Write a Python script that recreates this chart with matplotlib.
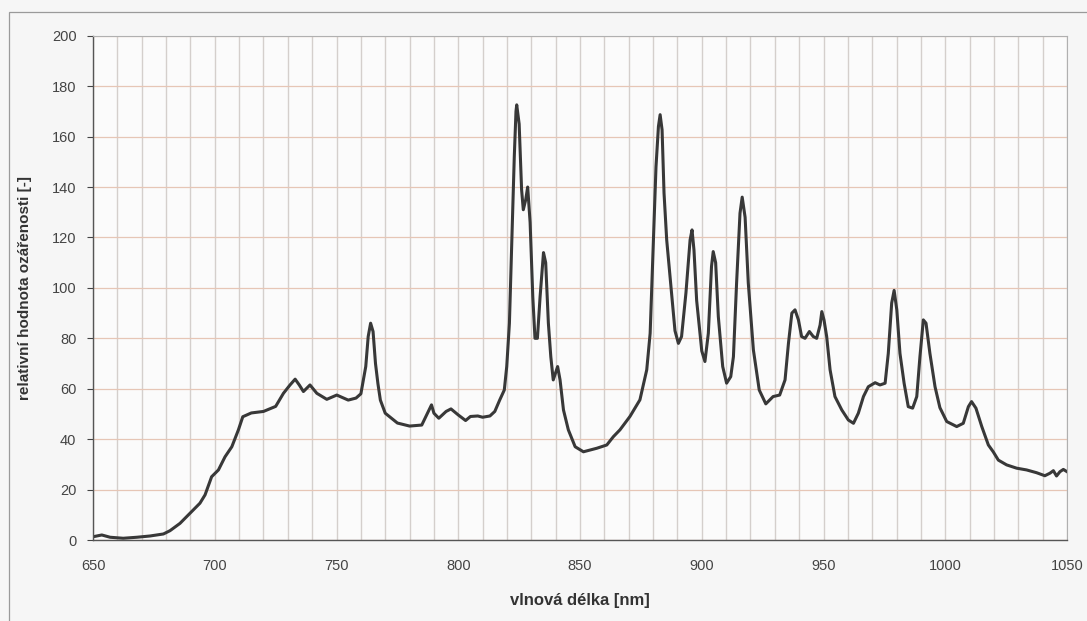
import matplotlib.pyplot as plt
from matplotlib.patches import Rectangle

# spectrum
wavelength = [650, 653.6, 657, 662.4, 668, 673.4, 678.9, 681.6, 685.7, 689.8,
              693.9, 696, 698.7, 701.5, 704.2, 707, 709.7, 711.5, 715, 720,
              725, 728.2, 730.9, 733, 734.7, 736.4, 739.1, 741.9, 746, 750.1,
              754.8, 758, 760, 762, 763, 764, 765, 766, 767, 768,
              770, 775, 780, 785, 788, 789, 790, 792, 795, 797,
              800, 803, 805, 808, 810, 813, 815, 817, 818.9, 819.9,
              821, 822, 823, 823.7, 824, 825, 826, 826.7, 827.7, 828.5,
              829.5, 830.6, 831.5, 832.5, 833.6, 835, 835.9, 837, 838, 839,
              840.8, 841.8, 843.2, 845.2, 848, 851.4, 856.9, 861, 863.7, 866.4,
              870.5, 874.6, 877.4, 878.8, 880, 881.2, 882.2, 882.9, 883.7, 884.5,
              885.6, 887.2, 889, 890.4, 891.7, 893.5, 895.2, 896, 896.8, 897.9,
              900, 901.3, 902.7, 904, 904.7, 905.7, 906.8, 908.6, 910.2, 911.9,
              913, 914.3, 915.7, 916.6, 917.8, 919.1, 921.2, 923.6, 926.3, 929.3,
              932, 934.2, 935.6, 937, 938.3, 939.7, 941, 942.4, 944.2, 945.8,
              947.2, 948.6, 949.3, 950.2, 951.3, 952.7, 954.7, 957.5, 960.2, 962.3,
              964.3, 966.4, 968.4, 971.2, 973.2, 975.3, 976.6, 978, 979, 980.1,
              981.4, 983.1, 984.8, 986.6, 988.3, 989.6, 991, 992.1, 993.7, 995.8,
              997.8, 1000.6, 1004.7, 1007.4, 1009.5, 1010.8, 1012.6, 1015, 1017.7, 1019.7,
              1021.8, 1025.2, 1029.3, 1033.4, 1037.5, 1040.9, 1043, 1044.4, 1045.7, 1047.1,
              1048.5, 1050]
irradiance = [1.3, 2.0, 1.1, 0.7, 1.1, 1.6, 2.4, 3.7, 6.6, 10.6,
              14.6, 17.9, 25.1, 27.8, 33.0, 37.0, 43.7, 48.9, 50.4, 51.0,
              53.0, 58.2, 61.5, 63.8, 61.5, 58.9, 61.5, 58.2, 55.8, 57.5,
              55.5, 56.3, 58.0, 68.8, 80.7, 86.0, 82.7, 70.0, 62.0, 55.5,
              50.3, 46.4, 45.2, 45.6, 51.6, 53.6, 50.3, 48.3, 51.0, 52.0,
              49.6, 47.4, 49.0, 49.2, 48.7, 49.2, 51.0, 55.5, 59.5, 68.8,
              86.0, 119.0, 152.0, 170.0, 172.6, 165.0, 139.0, 131.0, 135.0, 140.0,
              126.0, 96.5, 80.0, 80.0, 96.5, 114.0, 110.0, 86.0, 72.7, 63.5,
              68.8, 63.5, 51.6, 43.7, 37.0, 35.0, 36.4, 37.7, 41.0, 43.7,
              49.0, 55.6, 67.5, 82.0, 115.0, 148.0, 164.0, 168.7, 162.7, 137.6,
              119.0, 102.0, 83.0, 78.0, 80.7, 98.0, 119.0, 123.0, 115.0, 95.0,
              75.0, 70.8, 82.0, 108.5, 114.4, 110.0, 88.6, 68.8, 62.2, 64.8,
              72.7, 101.9, 129.6, 136.0, 128.0, 102.0, 75.4, 59.5, 54.0, 56.9,
              57.5, 63.5, 78.0, 90.0, 91.3, 87.3, 80.7, 80.0, 82.7, 80.7,
              80.0, 85.3, 90.6, 87.3, 80.7, 67.5, 56.9, 51.6, 47.6, 46.3,
              50.3, 56.9, 60.8, 62.4, 61.5, 62.2, 74.0, 94.0, 99.0, 91.3,
              74.0, 62.2, 52.9, 52.3, 56.9, 72.7, 87.3, 86.0, 74.0, 60.8,
              52.5, 47.0, 45.0, 46.3, 52.9, 54.9, 52.3, 45.0, 37.7, 35.0,
              31.7, 29.8, 28.5, 27.8, 26.7, 25.5, 26.5, 27.5, 25.4, 27.1,
              28.0, 27.1]

x_ticks = [650, 700, 750, 800, 850, 900, 950, 1000, 1050]
y_ticks = [0, 20, 40, 60, 80, 100, 120, 140, 160, 180, 200]

plt.rcParams['font.family'] = ['Liberation Sans', 'DejaVu Sans']

fig = plt.figure(figsize=(10.87, 6.21), dpi=100, facecolor='#f6f6f6')
ax = fig.add_axes([0.0856, 0.1304, 0.896, 0.812])
ax.set_facecolor('#fbfbfb')

# thin frame around the whole chart area
fig.patches.append(Rectangle((0.0083, -0.1), 1.2, 1.08, transform=fig.transFigure,
                             fill=False, edgecolor='#9a9a9a', linewidth=0.9))

ax.plot(wavelength, irradiance, color='#383838', linewidth=2.2,
        solid_joinstyle='round')

ax.set_xlim(650, 1050)
ax.set_ylim(0, 200)
ax.set_xticks(x_ticks)
ax.set_yticks(y_ticks)
ax.set_xticks(range(650, 1051, 10), minor=True)

ax.grid(which='major', axis='y', color='#e6c6b6', linewidth=0.9)
ax.grid(which='both', axis='x', color='#d4cfcc', linewidth=1.0)
ax.set_axisbelow(True)

for s in ['top', 'right']:
    ax.spines[s].set_color('#b0b0b0')
    ax.spines[s].set_linewidth(0.8)
for s in ['left', 'bottom']:
    ax.spines[s].set_color('#555555')
    ax.spines[s].set_linewidth(1.0)

ax.tick_params(axis='both', which='major', labelsize=10.5, colors='#444444',
               length=4, width=0.8, pad=8)
ax.tick_params(axis='x', which='minor', length=0)
ax.tick_params(axis='x', which='major', length=0, pad=14)

ax.set_xlabel('vlnová délka [nm]', fontsize=12, fontweight='bold',
              color='#333333', labelpad=14)
ax.set_ylabel('relativní hodnota ozářenosti [-]', fontsize=11, fontweight='bold',
              color='#333333', labelpad=14)

plt.savefig('out.png', dpi=100, facecolor=fig.get_facecolor())
